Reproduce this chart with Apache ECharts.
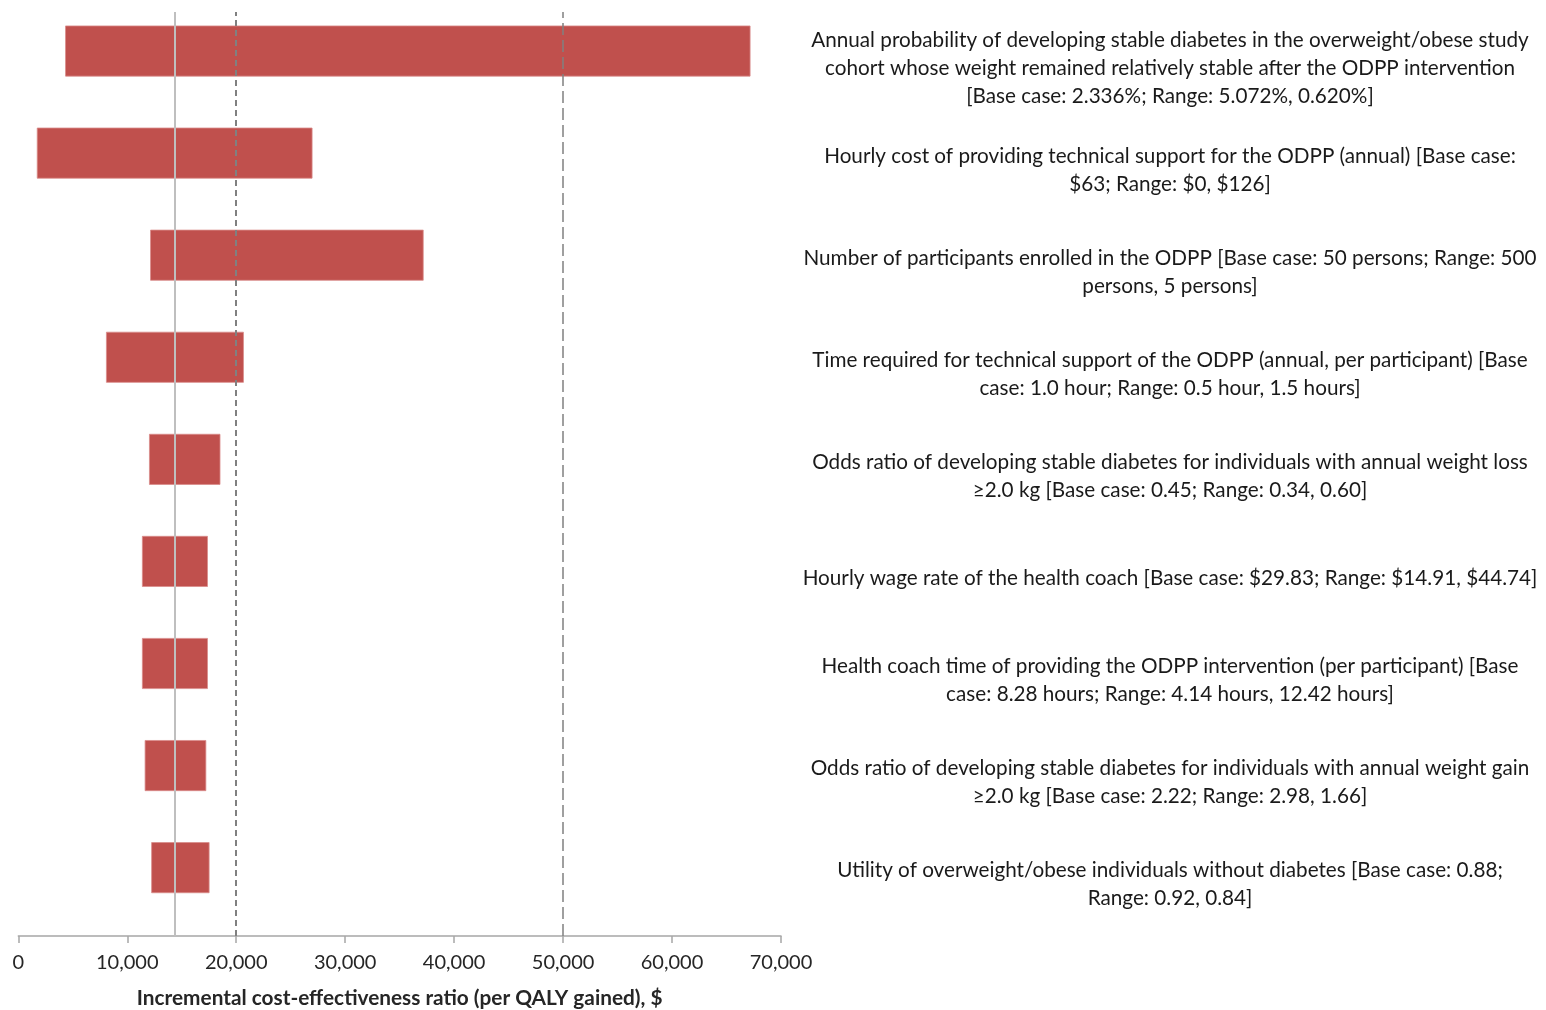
<!DOCTYPE html>
<html>
<head>
<meta charset="utf-8">
<script src="https://cdn.jsdelivr.net/npm/echarts@6/dist/echarts.min.js"></script>
<style>
html,body{margin:0;padding:0;background:#fff;}
#chart{width:1546px;height:1010px;}
</style>
</head>
<body>
<div id="chart"></div>
<script>
const categories = [
  'Annual probability of developing stable diabetes in the overweight/obese study\ncohort whose weight remained relatively stable after the ODPP intervention\n[Base case: 2.336%; Range: 5.072%, 0.620%]',
  'Hourly cost of providing technical support for the ODPP (annual) [Base case:\n$63; Range: $0, $126]',
  'Number of participants enrolled in the ODPP [Base case: 50 persons; Range: 500\npersons, 5 persons]',
  'Time required for technical support of the ODPP (annual, per participant) [Base\ncase: 1.0 hour; Range: 0.5 hour, 1.5 hours]',
  'Odds ratio of developing stable diabetes for individuals with annual weight loss\n≥2.0 kg [Base case: 0.45; Range: 0.34, 0.60]',
  'Hourly wage rate of the health coach [Base case: $29.83; Range: $14.91, $44.74]',
  'Health coach time of providing the ODPP intervention (per participant) [Base\ncase: 8.28 hours; Range: 4.14 hours, 12.42 hours]',
  'Odds ratio of developing stable diabetes for individuals with annual weight gain\n≥2.0 kg [Base case: 2.22; Range: 2.98, 1.66]',
  'Utility of overweight/obese individuals without diabetes [Base case: 0.88;\nRange: 0.92, 0.84]'
];
const lowValues  = [4300, 1700, 12100, 8050, 12000, 11350, 11350, 11600, 12200];
const highValues = [67200, 27000, 37200, 20700, 18550, 17400, 17400, 17250, 17550];
const baseCaseICER = 14340;
const thresholds = [20000, 50000];
const xTicks = [0, 10000, 20000, 30000, 40000, 50000, 60000, 70000];

const spans = highValues.map((h, i) => h - lowValues[i]);
const FONT = 'Lato';

const chart = echarts.init(document.getElementById('chart'), null, {renderer: 'canvas'});
chart.setOption({
  animation: false,
  backgroundColor: '#ffffff',
  grid: [
    {left: 18.3, width: 762.7, top: 0, height: 918.7, outerBoundsMode: 'none', containLabel: false},
    {left: 18.3, width: 762.7, top: 12, height: 924, outerBoundsMode: 'none', containLabel: false},
    {left: 18.3, width: 762.7, top: 17, height: 918.7, outerBoundsMode: 'none', containLabel: false}
  ],
  xAxis: [
    {gridIndex: 0, type: 'value', min: xTicks[0], max: xTicks[xTicks.length - 1], interval: 10000,
     show: false},
    {gridIndex: 1, type: 'value', min: xTicks[0], max: xTicks[xTicks.length - 1], interval: 10000,
     splitLine: {show: false},
     axisLine: {show: true, lineStyle: {color: '#a6a6a6', width: 1.5}},
     axisTick: {show: true, length: 7, lineStyle: {color: '#a6a6a6', width: 1.5}},
     axisLabel: {margin: 17, fontFamily: FONT, fontSize: 20, color: '#262626',
       formatter: v => v.toLocaleString('en-US')},
     name: 'Incremental cost-effectiveness ratio (per QALY gained), $',
     nameLocation: 'middle', nameGap: 52,
     nameTextStyle: {fontFamily: FONT, fontSize: 20.8, fontWeight: 'bold', color: '#262626'}
    },
    {gridIndex: 2, type: 'value', min: 0, max: 1, show: false}
  ],
  yAxis: [
    {gridIndex: 0, type: 'category', inverse: true, data: categories, show: false},
    {gridIndex: 1, type: 'value', min: 0, max: 1, show: false},
    {gridIndex: 2, type: 'category', inverse: true, data: categories, position: 'right',
     axisLine: {show: false}, axisTick: {show: false}, splitLine: {show: false},
     axisLabel: {interval: 0, hideOverlap: false, margin: 389, align: 'center', verticalAlign: 'middle',
       fontFamily: FONT, fontSize: 20.7, lineHeight: 28, color: '#1a1a1a'}
    }
  ],
  series: [
    {type: 'bar', xAxisIndex: 0, yAxisIndex: 0, stack: 'tornado', data: lowValues,
     barWidth: 51, itemStyle: {color: 'rgba(0,0,0,0)'}, silent: true},
    {type: 'bar', xAxisIndex: 0, yAxisIndex: 0, stack: 'tornado', data: spans,
     barWidth: 51, itemStyle: {color: '#c0504d', borderColor: '#d98c8a', borderWidth: 0.8}},
    {type: 'scatter', xAxisIndex: 1, yAxisIndex: 1, data: [], symbolSize: 0,
     markLine: {
       silent: true, symbol: 'none', label: {show: false},
       data: [
         {xAxis: baseCaseICER, lineStyle: {color: '#bfbfbf', width: 2, type: 'solid'}},
         {xAxis: thresholds[0], lineStyle: {color: '#808080', width: 2, type: [6, 4]}},
         {xAxis: thresholds[1], lineStyle: {color: '#808080', width: 1.5, type: [12, 5]}}
       ]
     }
    }
  ]
});
</script>
</body>
</html>
